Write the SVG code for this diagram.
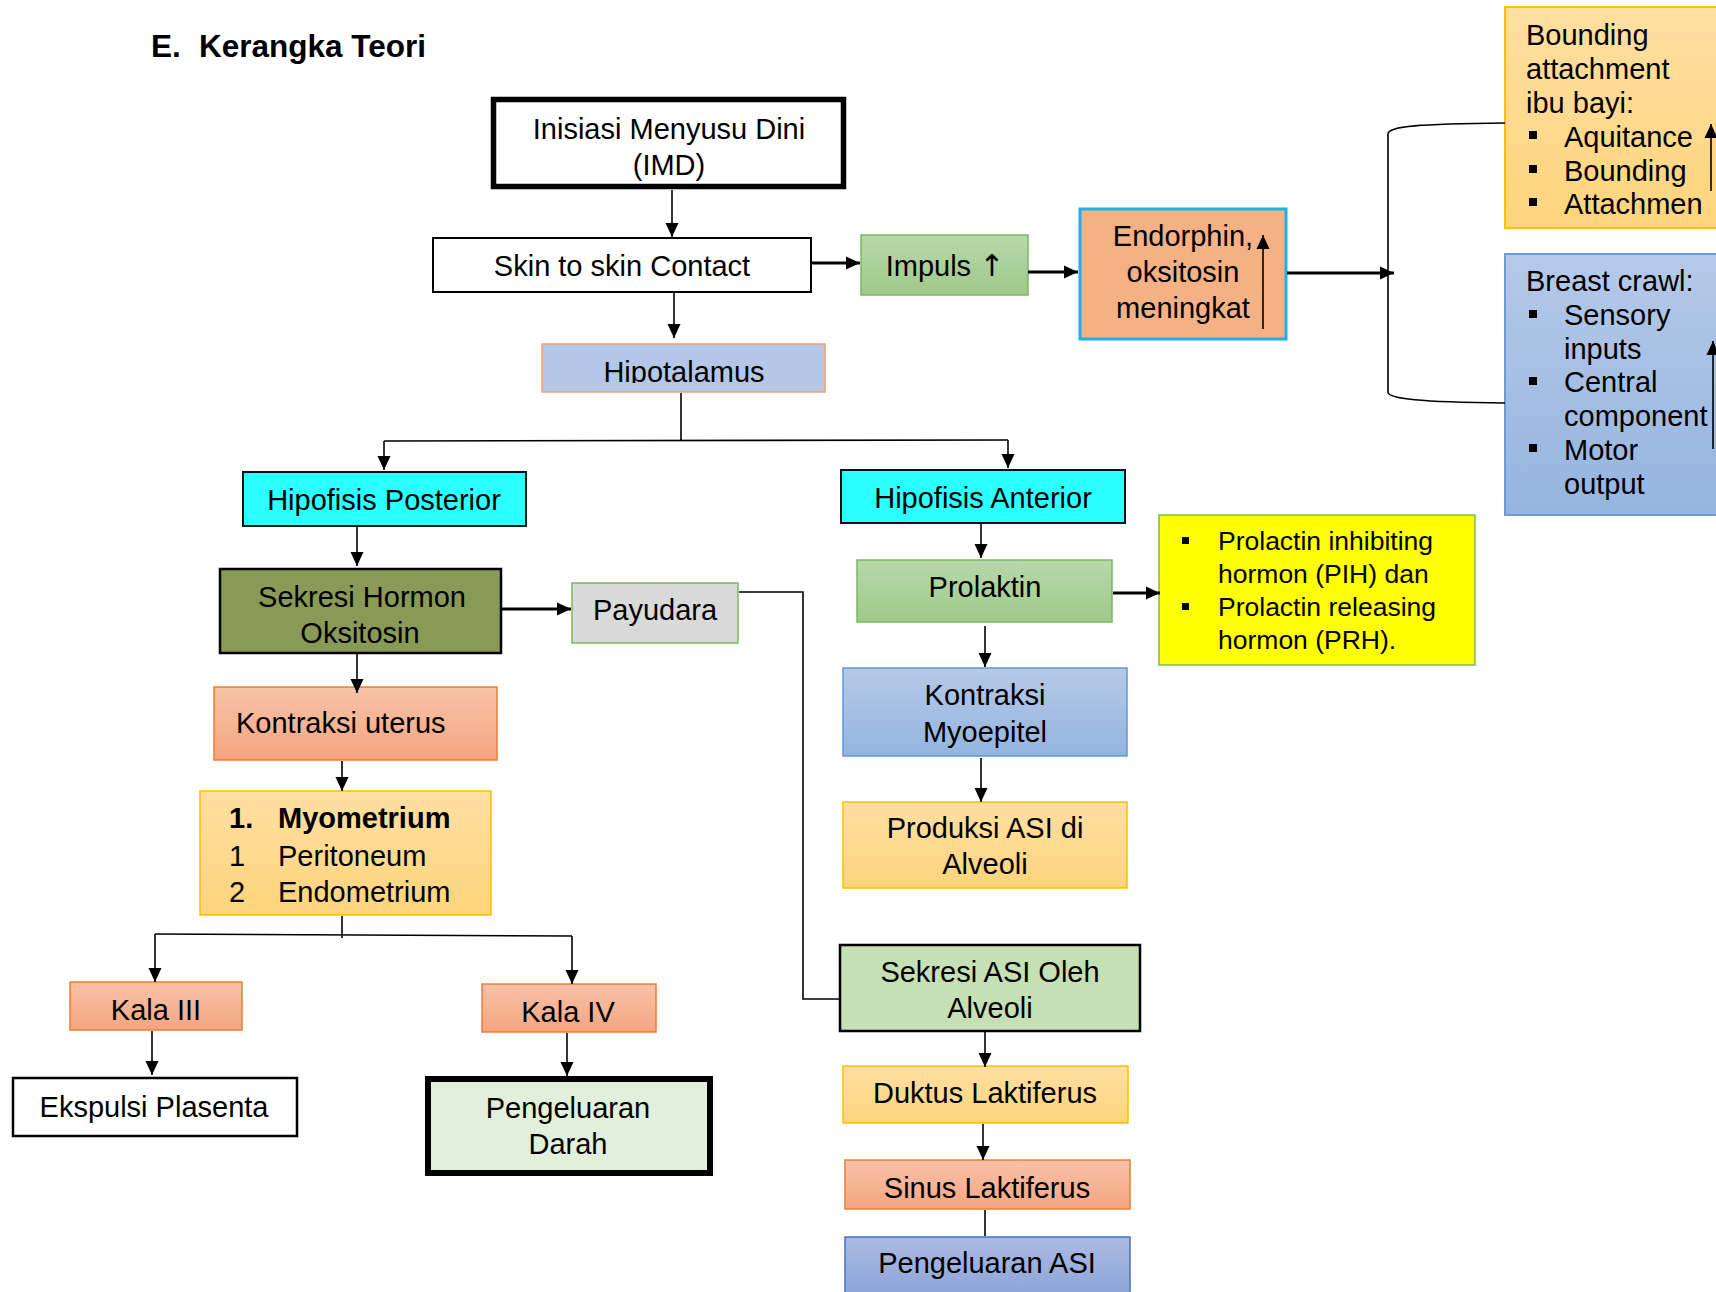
<svg xmlns="http://www.w3.org/2000/svg" width="1716" height="1292" viewBox="0 0 1716 1292">
<style>
text{font-family:"Liberation Sans",Arial,sans-serif;font-size:29px;fill:#000}
.c{text-anchor:middle}
.b{font-weight:bold}
.ln{fill:none;stroke:#000;stroke-width:1.6}
.tk{fill:none;stroke:#000;stroke-width:3.2}
.y{font-size:26.5px}
.t{font-size:31.5px;font-weight:bold}
</style>
<defs>
<marker id="ah" markerUnits="userSpaceOnUse" markerWidth="15" markerHeight="15" refX="14" refY="7" orient="auto"><path d="M0,0.5 L14,7 L0,13.5 z" fill="#000"/></marker>
<linearGradient id="gSal" x1="0" y1="0" x2="0" y2="1"><stop offset="0" stop-color="#f8c3a9"/><stop offset="1" stop-color="#f4a580"/></linearGradient>
<linearGradient id="gGold" x1="0" y1="0" x2="0" y2="1"><stop offset="0" stop-color="#ffdfa2"/><stop offset="1" stop-color="#fed47c"/></linearGradient>
<linearGradient id="gGrn" x1="0" y1="0" x2="0" y2="1"><stop offset="0" stop-color="#b8d8aa"/><stop offset="1" stop-color="#9fc98a"/></linearGradient>
<linearGradient id="gBlu" x1="0" y1="0" x2="0" y2="1"><stop offset="0" stop-color="#b6c9e8"/><stop offset="1" stop-color="#94b4df"/></linearGradient>
<linearGradient id="gBlu2" x1="0" y1="0" x2="0" y2="1"><stop offset="0" stop-color="#abbae2"/><stop offset="1" stop-color="#8ca4d8"/></linearGradient>
<clipPath id="clipHipo"><rect x="542" y="344" width="283" height="39"/></clipPath>
</defs>

<g id="title">
<text x="151" y="57" class="t">E.</text>
<text x="199" y="57" class="t">Kerangka Teori</text>
</g>

<g id="imd">
<rect x="493.5" y="99.5" width="350" height="87" fill="#fff" stroke="#000" stroke-width="5.5"/>
<text x="669" y="139" class="c">Inisiasi Menyusu Dini</text>
<text x="669" y="175" class="c">(IMD)</text>
</g>

<g id="skin">
<rect x="433" y="238" width="378" height="54" fill="#fff" stroke="#000" stroke-width="2"/>
<text x="622" y="276" class="c">Skin to skin Contact</text>
</g>

<g id="impuls">
<rect x="861" y="235" width="167" height="60" fill="url(#gGrn)" stroke="#7cb661" stroke-width="1.5"/>
<text x="945" y="276" class="c">Impuls <tspan style="font-family:'DejaVu Sans',sans-serif;font-size:30px">↑</tspan></text>
</g>

<g id="endorphin">
<rect x="1080" y="209" width="206" height="130" fill="#f4b183" stroke="#1cb0ec" stroke-width="3"/>
<text x="1183" y="246" class="c">Endorphin,</text>
<text x="1183" y="282" class="c">oksitosin</text>
<text x="1183" y="318" class="c">meningkat</text>
<path class="ln" d="M1263,329 V235" marker-end="url(#ah)"/>
</g>

<g id="bounding">
<rect x="1505" y="7" width="220" height="221" fill="url(#gGold)" stroke="#ffc000" stroke-width="2"/>
<text x="1526" y="45">Bounding</text>
<text x="1526" y="79">attachment</text>
<text x="1526" y="113">ibu bayi:</text>
<rect x="1529" y="131" width="8" height="8"/>
<text x="1564" y="147">Aquitance</text>
<rect x="1529" y="165" width="8" height="8"/>
<text x="1564" y="181">Bounding</text>
<rect x="1529" y="198" width="8" height="8"/>
<text x="1564" y="214">Attachmen</text>
<path class="ln" d="M1711,191 V124" marker-end="url(#ah)"/>
</g>

<g id="breastcrawl">
<rect x="1505" y="254" width="220" height="261" fill="url(#gBlu)" stroke="#6d9bd3" stroke-width="2"/>
<text x="1526" y="291">Breast crawl:</text>
<rect x="1529" y="310" width="8" height="8"/>
<text x="1564" y="325">Sensory</text>
<text x="1564" y="359">inputs</text>
<rect x="1529" y="377" width="8" height="8"/>
<text x="1564" y="392">Central</text>
<text x="1564" y="426">component</text>
<rect x="1529" y="444" width="8" height="8"/>
<text x="1564" y="460">Motor</text>
<text x="1564" y="494">output</text>
<path class="ln" d="M1713,449 V341" marker-end="url(#ah)"/>
</g>

<g id="hipotalamus">
<rect x="542" y="344" width="283" height="48" fill="#b4c7e7" stroke="#f4a071" stroke-width="1.5"/>
<text x="684" y="382" class="c" clip-path="url(#clipHipo)">Hipotalamus</text>
</g>

<g id="hipofisis-posterior">
<rect x="243" y="472" width="283" height="54" fill="#2bffff" stroke="#111" stroke-width="2"/>
<text x="384" y="510" class="c">Hipofisis Posterior</text>
</g>

<g id="hipofisis-anterior">
<rect x="841" y="470" width="284" height="53" fill="#2bffff" stroke="#111" stroke-width="2"/>
<text x="983" y="508" class="c">Hipofisis Anterior</text>
</g>

<g id="sekresi-hormon">
<rect x="220" y="569" width="281" height="84" fill="#889a56" stroke="#000" stroke-width="2.5"/>
<text x="362" y="607" class="c">Sekresi Hormon</text>
<text x="360" y="643" class="c">Oksitosin</text>
</g>

<g id="payudara">
<rect x="572" y="583" width="166" height="60" fill="#d9d9d9" stroke="#7cb661" stroke-width="1.5"/>
<text x="655" y="620" class="c">Payudara</text>
</g>

<g id="kontraksi-uterus">
<rect x="214" y="687" width="283" height="73" fill="url(#gSal)" stroke="#ed7d31" stroke-width="1.5"/>
<text x="236" y="733">Kontraksi uterus</text>
</g>

<g id="myometrium">
<rect x="200" y="791" width="291" height="124" fill="url(#gGold)" stroke="#ffc000" stroke-width="1.5"/>
<text x="229" y="828" class="b">1.</text>
<text x="278" y="828" class="b">Myometrium</text>
<text x="229" y="866">1</text>
<text x="278" y="866">Peritoneum</text>
<text x="229" y="902">2</text>
<text x="278" y="902">Endometrium</text>
</g>

<g id="kala3">
<rect x="70" y="982" width="172" height="48" fill="url(#gSal)" stroke="#ed7d31" stroke-width="1.5"/>
<text x="156" y="1020" class="c">Kala III</text>
</g>

<g id="kala4">
<rect x="482" y="984" width="174" height="48" fill="url(#gSal)" stroke="#ed7d31" stroke-width="1.5"/>
<text x="568" y="1022" class="c">Kala IV</text>
</g>

<g id="ekspulsi">
<rect x="13" y="1078" width="284" height="58" fill="#fff" stroke="#000" stroke-width="2.5"/>
<text x="154" y="1117" class="c">Ekspulsi Plasenta</text>
</g>

<g id="pengeluaran-darah">
<rect x="428" y="1079" width="282" height="94" fill="#e2efda" stroke="#000" stroke-width="6"/>
<text x="568" y="1118" class="c">Pengeluaran</text>
<text x="568" y="1154" class="c">Darah</text>
</g>

<g id="prolaktin">
<rect x="857" y="560" width="255" height="62" fill="url(#gGrn)" stroke="#7cb661" stroke-width="1.5"/>
<text x="985" y="597" class="c">Prolaktin</text>
</g>

<g id="pih-prh">
<rect x="1159" y="515" width="316" height="150" fill="#ffff00" stroke="#7cb661" stroke-width="1.5"/>
<rect x="1182" y="537" width="7" height="7"/>
<text x="1218" y="550" class="y">Prolactin inhibiting</text>
<text x="1218" y="583" class="y">hormon (PIH) dan</text>
<rect x="1182" y="603" width="7" height="7"/>
<text x="1218" y="616" class="y">Prolactin releasing</text>
<text x="1218" y="649" class="y">hormon (PRH).</text>
</g>

<g id="kontraksi-myoepitel">
<rect x="843" y="668" width="284" height="88" fill="url(#gBlu)" stroke="#5b9bd5" stroke-width="1.5"/>
<text x="985" y="705" class="c">Kontraksi</text>
<text x="985" y="742" class="c">Myoepitel</text>
</g>

<g id="produksi-asi">
<rect x="843" y="802" width="284" height="86" fill="url(#gGold)" stroke="#ffc000" stroke-width="1.5"/>
<text x="985" y="838" class="c">Produksi ASI di</text>
<text x="985" y="874" class="c">Alveoli</text>
</g>

<g id="sekresi-asi">
<rect x="840" y="945" width="300" height="86" fill="#c5e0b4" stroke="#000" stroke-width="2.5"/>
<text x="990" y="982" class="c">Sekresi ASI Oleh</text>
<text x="990" y="1018" class="c">Alveoli</text>
</g>

<g id="duktus">
<rect x="843" y="1066" width="285" height="57" fill="url(#gGold)" stroke="#ffc000" stroke-width="1.5"/>
<text x="985" y="1103" class="c">Duktus Laktiferus</text>
</g>

<g id="sinus">
<rect x="845" y="1160" width="285" height="49" fill="url(#gSal)" stroke="#ed7d31" stroke-width="1.5"/>
<text x="987" y="1198" class="c">Sinus Laktiferus</text>
</g>

<g id="pengeluaran-asi">
<rect x="845" y="1237" width="285" height="60" fill="url(#gBlu2)" stroke="#4472c4" stroke-width="1.5"/>
<text x="987" y="1273" class="c">Pengeluaran ASI</text>
</g>

<g id="connectors">
<path class="ln" d="M672,190 V237" marker-end="url(#ah)"/>
<path class="ln" d="M674,292 V338" marker-end="url(#ah)"/>
<path class="tk" d="M811,263 H860" marker-end="url(#ah)"/>
<path class="tk" d="M1028,272 H1078" marker-end="url(#ah)"/>
<path class="tk" d="M1287,273 H1394" marker-end="url(#ah)"/>
<path class="ln" d="M1505,123 C1420,124 1388,126 1388,134 L1388,392 C1388,399 1420,402 1505,403"/>
<path class="ln" d="M681,393 V441 M384,441 L1008,440"/>
<path class="ln" d="M384,441 V470" marker-end="url(#ah)"/>
<path class="ln" d="M1008,440 V468" marker-end="url(#ah)"/>
<path class="ln" d="M357,527 V566" marker-end="url(#ah)"/>
<path class="tk" d="M502,609 H571" marker-end="url(#ah)"/>
<path class="ln" d="M739,592 H803 V999 H839"/>
<path class="ln" d="M357,654 V693" marker-end="url(#ah)"/>
<path class="ln" d="M342,761 V791" marker-end="url(#ah)"/>
<path class="ln" d="M342,916 V938 M155,934 L572,936"/>
<path class="ln" d="M155,934 V982" marker-end="url(#ah)"/>
<path class="ln" d="M572,936 V984" marker-end="url(#ah)"/>
<path class="ln" d="M152,1031 V1075" marker-end="url(#ah)"/>
<path class="ln" d="M567,1033 V1076" marker-end="url(#ah)"/>
<path class="ln" d="M981,524 V558" marker-end="url(#ah)"/>
<path class="tk" d="M1113,593 H1160" marker-end="url(#ah)"/>
<path class="ln" d="M985,626 V667" marker-end="url(#ah)"/>
<path class="ln" d="M981,758 V802" marker-end="url(#ah)"/>
<path class="ln" d="M985,1032 V1067" marker-end="url(#ah)"/>
<path class="ln" d="M983,1124 V1160" marker-end="url(#ah)"/>
<path class="ln" d="M985,1210 V1236"/>
</g>
</svg>
